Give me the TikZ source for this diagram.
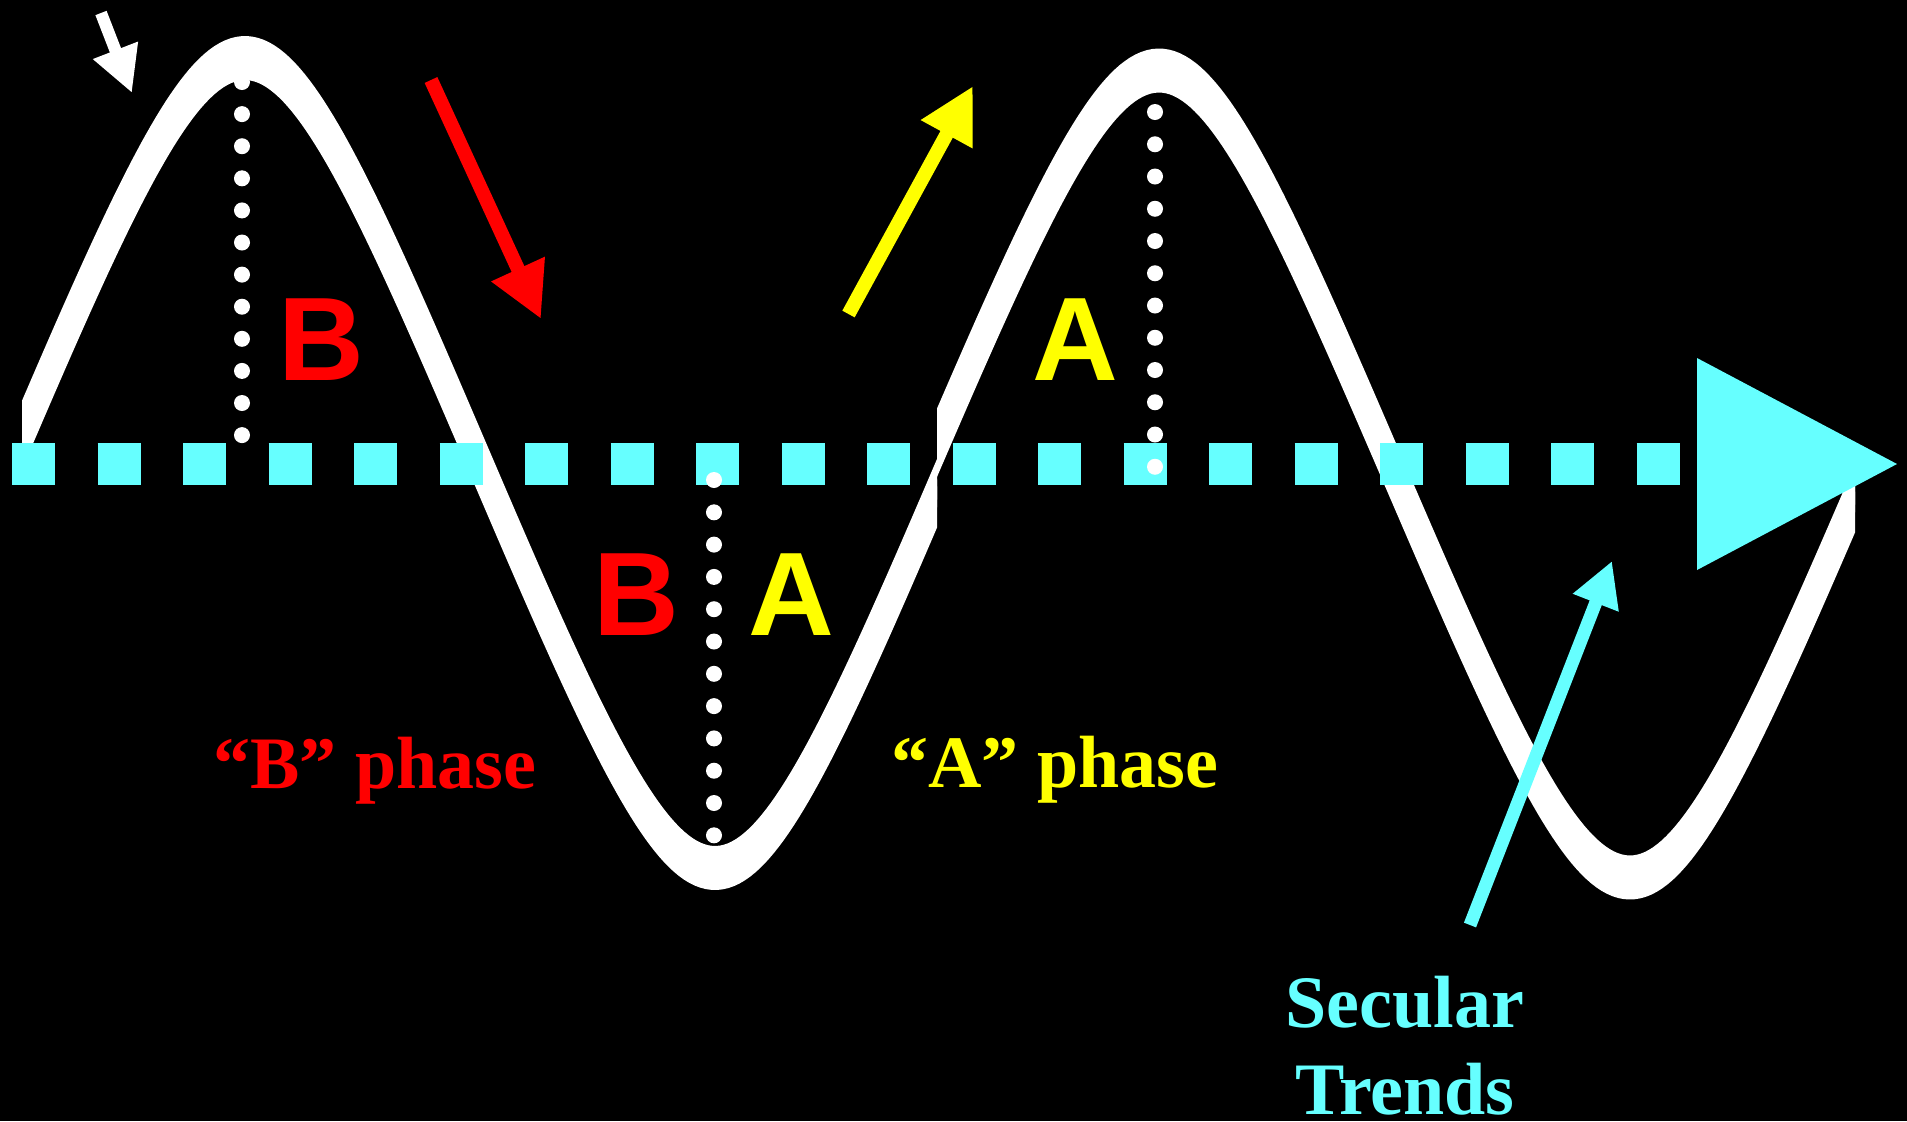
\documentclass[tikz,border=0pt]{standalone}
\usepackage{fontspec}
\setmainfont{Liberation Serif}
\newfontfamily\arialfont{Liberation Sans}
\usetikzlibrary{arrows.meta}
\definecolor{cyanx}{RGB}{102,255,255}
\definecolor{redx}{RGB}{255,0,0}
\definecolor{yellowx}{RGB}{255,255,0}
\begin{document}
\begin{tikzpicture}[x=0.5pt, y=-0.5pt,
  declare function={
    wa(\t)=463-7.6228*asin(0.8*sin(0.382979*(\t-10)));
    wb(\t)=474-7.5946*asin(0.8*sin(0.382166*(\t-923.5)));
  },
  wavestroke/.style={white, line width=8pt, line join=round},
  wavefill/.style={white},
  axisline/.style={cyanx, line width=21.25pt, dash pattern=on 21.5pt off 21.25pt},
  axishead/.style={fill=cyanx},
  wdot/.style={white},
  bigletter/.style={font=\arialfont\bfseries\fontsize{59.4pt}{60pt}\selectfont, inner sep=0pt, anchor=base},
  phase/.style={font=\bfseries\fontsize{37pt}{44.5pt}\selectfont, inner sep=0pt},
  arrw/.style={line width=7pt},
]
\useasboundingbox (0,0) rectangle (1907,1121);
\fill[black] (0,0) rectangle (1907,1121);

% wave, left piece
\begin{scope}
  \clip (22,0) rectangle (937,1121);
  \fill[wavefill] plot[domain=22:937,samples=200] (\x,{wa(\x)-14}) -- plot[domain=937:22,samples=200] (\x,{wa(\x)+14}) -- cycle;
  \draw[wavestroke] plot[domain=12:947,samples=200] (\x,{wa(\x)-14});
  \draw[wavestroke] plot[domain=12:947,samples=200] (\x,{wa(\x)+14});
\end{scope}
% wave, right piece
\begin{scope}
  \clip (937,0) rectangle (1855,1121);
  \fill[wavefill] plot[domain=937:1855,samples=200] (\x,{wb(\x)-14}) -- plot[domain=1855:937,samples=200] (\x,{wb(\x)+14}) -- cycle;
  \draw[wavestroke] plot[domain=927:1865,samples=200] (\x,{wb(\x)-14});
  \draw[wavestroke] plot[domain=927:1865,samples=200] (\x,{wb(\x)+14});
\end{scope}

% secular trend axis
\coordinate (axstart) at (12,464);
\coordinate (axend) at (1680,464);
\draw[axisline] (axstart) -- (axend);
\coordinate (hb1) at (1697,358);
\coordinate (hb2) at (1697,570);
\coordinate (htip) at (1897,464);
\fill[axishead] (hb1) -- (htip) -- (hb2) -- cycle;

% secular trends arrow
\coordinate (ct) at (1470,925);
\coordinate (ch) at (1612,561);
\draw[arrw, line width=6.5pt, cyanx, -{Triangle[length=22.4pt,width=23pt]}] (ct) -- (ch);

% dotted verticals
\foreach \i in {0,...,11} \fill[wdot] (242,{82+32.1*\i}) circle[radius=4pt];
\foreach \i in {0,...,11} \fill[wdot] (714,{480+32.3*\i}) circle[radius=4pt];
\foreach \i in {0,...,11} \fill[wdot] (1155,{112+32.25*\i}) circle[radius=4pt];

% letters
\node[bigletter, text=redx] (B1) at (321,380) {B};
\node[bigletter, text=redx] (B2) at (636,635) {B};
\node[bigletter, text=yellowx] (A1) at (1075,380) {A};
\node[bigletter, text=yellowx] (A2) at (791,635) {A};

% direction arrows
\coordinate (wt) at (101,13);
\coordinate (wh) at (132,93);
\draw[white, line width=6pt, -{Triangle[length=22.9pt,width=22.5pt]}] (wt) -- (wh);
\coordinate (rt) at (431,80);
\coordinate (rh) at (541,319);
\draw[arrw, redx, -{Triangle[length=27.5pt,width=27.5pt]}] (rt) -- (rh);
\coordinate (yt) at (848.5,314);
\coordinate (yh) at (973,86);
\draw[arrw, yellowx, -{Triangle[length=27.5pt,width=27.5pt]}] (yt) -- (yh);

% labels
\node[phase, text=redx, anchor=base west] (bphase) at (213,788) {“B” phase};
\node[phase, text=yellowx, anchor=base west] (aphase) at (891,787) {“A” phase};
\node[phase, text=cyanx, anchor=base] (secular) at (1405,1027) {Secular};
\node[phase, text=cyanx, anchor=base] (trends) at (1405,1114) {Trends};
\end{tikzpicture}
\end{document}
